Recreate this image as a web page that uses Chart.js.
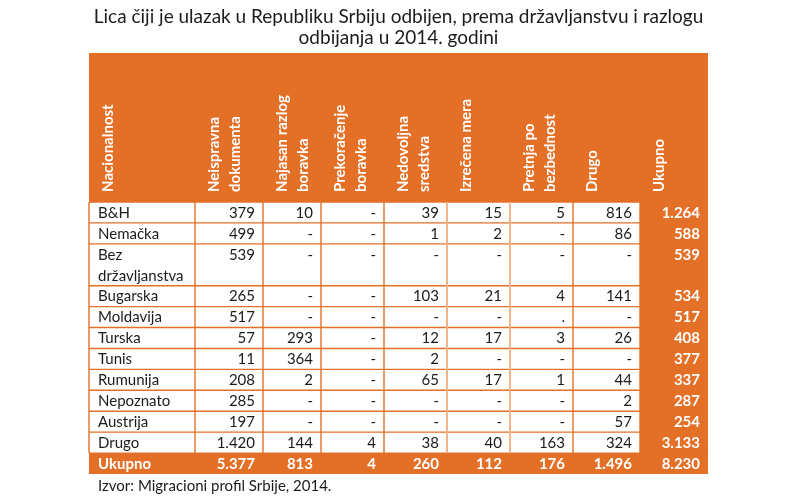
<!DOCTYPE html>
<html><head><meta charset="utf-8">
<script src="https://cdn.jsdelivr.net/npm/chart.js@4.4.1/dist/chart.umd.min.js"></script>
<style>html,body{margin:0;padding:0;background:#fff}#wrap{width:800px;height:500px;position:relative}</style>
</head><body><div id="wrap"><canvas id="c"></canvas></div>
<script>
// ---- data ----
const titleLines = ['Lica čiji je ulazak u Republiku Srbiju odbijen, prema državljanstvu i razlogu', 'odbijanja u 2014. godini'];
const columnHeaders = [['Nacionalnost'], ['Neispravna','dokumenta'], ['Najasan razlog','boravka'], ['Prekoračenje','boravka'], ['Nedovoljna','sredstva'], ['Izrečena mera'], ['Pretnja po','bezbednost'], ['Drugo'], ['Ukupno']];
const countries = ['B&H','Nemačka',['Bez','državljanstva'],'Bugarska','Moldavija','Turska','Tunis','Rumunija','Nepoznato','Austrija','Drugo'];
const neispravnaDokumenta = [379,499,539,265,517,57,11,208,285,197,1420];
const najasanRazlogBoravka = [10,null,null,null,null,293,364,2,null,null,144];
const prekoracenjeBoravka = [null,null,null,null,null,null,null,null,null,null,4];
const nedovoljnaSredstva = [39,1,null,103,null,12,2,65,null,null,38];
const izrecenaMera = [15,2,null,21,null,17,null,17,null,null,40];
const pretnjaPoBezbednost = [5,null,null,4,'.',3,null,1,null,null,163];
const drugo = [816,86,null,141,null,26,null,44,2,57,324];
const ukupno = [1264,588,539,534,517,408,377,337,287,254,3133];
const totalLabel = 'Ukupno';
const columnTotals = [5377,813,4,260,112,176,1496,8230];
const sourceNote = 'Izvor: Migracioni profil Srbije, 2014.';

// ---- layout / style (not data) ----
const seriesCols = [neispravnaDokumenta, najasanRazlogBoravka, prekoracenjeBoravka, nedovoljnaSredstva, izrecenaMera, pretnjaPoBezbednost, drugo];
const colWidths = [106,68,58,63,63,63,63,67,68];
const headerUnits = 7.12;
const ORANGE = '#E46F26';
const PEACH = '#F4B58A';
const TEXT = '#1b1b1b';
const FONT = 'Lato, "Open Sans", sans-serif';
const peachCols = [5,6];

const colEdges = [0];
colWidths.forEach(w => colEdges.push(colEdges[colEdges.length-1] + w));
const rowSpans = countries.map(c => Array.isArray(c) ? c.length : 1);
const rowEdges = [headerUnits];
rowSpans.forEach(s => rowEdges.push(rowEdges[rowEdges.length-1] + s));
const totalRowTop = rowEdges[rowEdges.length-1];
const yMax = totalRowTop + 1;

function fmt(v){
  if (v === null || v === undefined) return '-';
  if (typeof v === 'number') return v.toString().replace(/\B(?=(\d{3})+(?!\d))/g, '.');
  return v;
}

// fit title font to the table width
const meas = document.createElement('canvas').getContext('2d');
meas.font = '100px ' + FONT;
const titleSize = Math.min(19, 100 * colWidths.reduce((a,b)=>a+b,0) / meas.measureText(titleLines[0]).width);

const tablePlugin = {
  id: 'tablePlugin',
  afterDatasetsDraw(chart) {
    const ctx = chart.ctx;
    const xs = chart.scales.x, ys = chart.scales.y;
    const X = v => xs.getPixelForValue(v);
    const Y = v => ys.getPixelForValue(v);
    const unit = Y(1) - Y(0);
    const nCols = colWidths.length;
    const left = X(0), right = X(colEdges[nCols]);
    ctx.save();
    // orange areas
    ctx.fillStyle = ORANGE;
    ctx.fillRect(left, Y(0), right-left, Y(headerUnits)-Y(0));
    ctx.fillRect(X(colEdges[nCols-1]), Y(headerUnits), right-X(colEdges[nCols-1]), Y(yMax)-Y(headerUnits));
    ctx.fillRect(left, Y(totalRowTop), right-left, Y(yMax)-Y(totalRowTop));
    // grid lines
    ctx.lineWidth = 1.4;
    ctx.strokeStyle = ORANGE;
    rowEdges.forEach(r => {
      ctx.beginPath(); ctx.moveTo(left, Y(r)); ctx.lineTo(X(colEdges[nCols-1]), Y(r)); ctx.stroke();
    });
    for (let i = 0; i < nCols; i++) {
      ctx.strokeStyle = peachCols.includes(i) ? PEACH : ORANGE;
      ctx.lineWidth = peachCols.includes(i) ? 2 : 1.4;
      ctx.beginPath(); ctx.moveTo(X(colEdges[i]), Y(headerUnits)); ctx.lineTo(X(colEdges[i]), Y(totalRowTop)); ctx.stroke();
    }
    // header texts (rotated)
    ctx.fillStyle = '#fff';
    ctx.font = 'bold 15px ' + FONT;
    ctx.textAlign = 'left';
    ctx.textBaseline = 'middle';
    columnHeaders.forEach((lines, i) => {
      lines.forEach((t, j) => {
        ctx.save();
        ctx.translate(X(colEdges[i]) + 19 + 21*j, Y(headerUnits) - 10);
        ctx.rotate(-Math.PI/2);
        ctx.fillText(t, 0, 0);
        ctx.restore();
      });
    });
    // body
    countries.forEach((c, r) => {
      const top = Y(rowEdges[r]);
      const cy = top + unit/2 + 0.5;
      const lines = Array.isArray(c) ? c : [c];
      ctx.font = '15px ' + FONT;
      ctx.fillStyle = TEXT;
      ctx.textAlign = 'left';
      lines.forEach((t, j) => ctx.fillText(t, X(colEdges[0]) + 9, cy + unit*j));
      ctx.textAlign = 'right';
      seriesCols.forEach((arr, k) => {
        ctx.fillText(fmt(arr[r]), X(colEdges[k+2]) - 8, cy);
      });
      ctx.font = 'bold 15px ' + FONT;
      ctx.fillStyle = '#fff';
      ctx.fillText(fmt(ukupno[r]), X(colEdges[nCols]) - 8, cy);
    });
    // totals row
    const ty = Y(totalRowTop) + unit/2 + 0.5;
    ctx.font = 'bold 15px ' + FONT;
    ctx.fillStyle = '#fff';
    ctx.textAlign = 'left';
    ctx.fillText(totalLabel, X(colEdges[0]) + 9, ty);
    ctx.textAlign = 'right';
    columnTotals.forEach((v, k) => ctx.fillText(fmt(v), X(colEdges[k+2]) - 8, ty));
    // source
    ctx.font = '15px ' + FONT;
    ctx.fillStyle = TEXT;
    ctx.textAlign = 'left';
    ctx.fillText(sourceNote, X(colEdges[0]) + 9, Y(yMax) + 12);
    ctx.restore();
  }
};

new Chart(document.getElementById('c'), {
  type: 'scatter',
  data: { datasets: [{ data: [] }] },
  options: {
    responsive: true,
    maintainAspectRatio: false,
    animation: false,
    layout: { padding: { left: 89, right: 92, top: 0, bottom: 26 } },
    scales: {
      x: { type: 'linear', min: 0, max: colEdges[colEdges.length-1], display: false },
      y: { type: 'linear', min: 0, max: yMax, reverse: true, display: false }
    },
    plugins: {
      legend: { display: false },
      tooltip: { enabled: false },
      title: {
        display: true,
        text: titleLines,
        color: '#1b1b1b',
        font: { family: FONT, size: titleSize, weight: 'normal', lineHeight: 21 / titleSize },
        padding: { top: 6, bottom: 5 }
      }
    }
  },
  plugins: [tablePlugin]
});
</script>
</body></html>
